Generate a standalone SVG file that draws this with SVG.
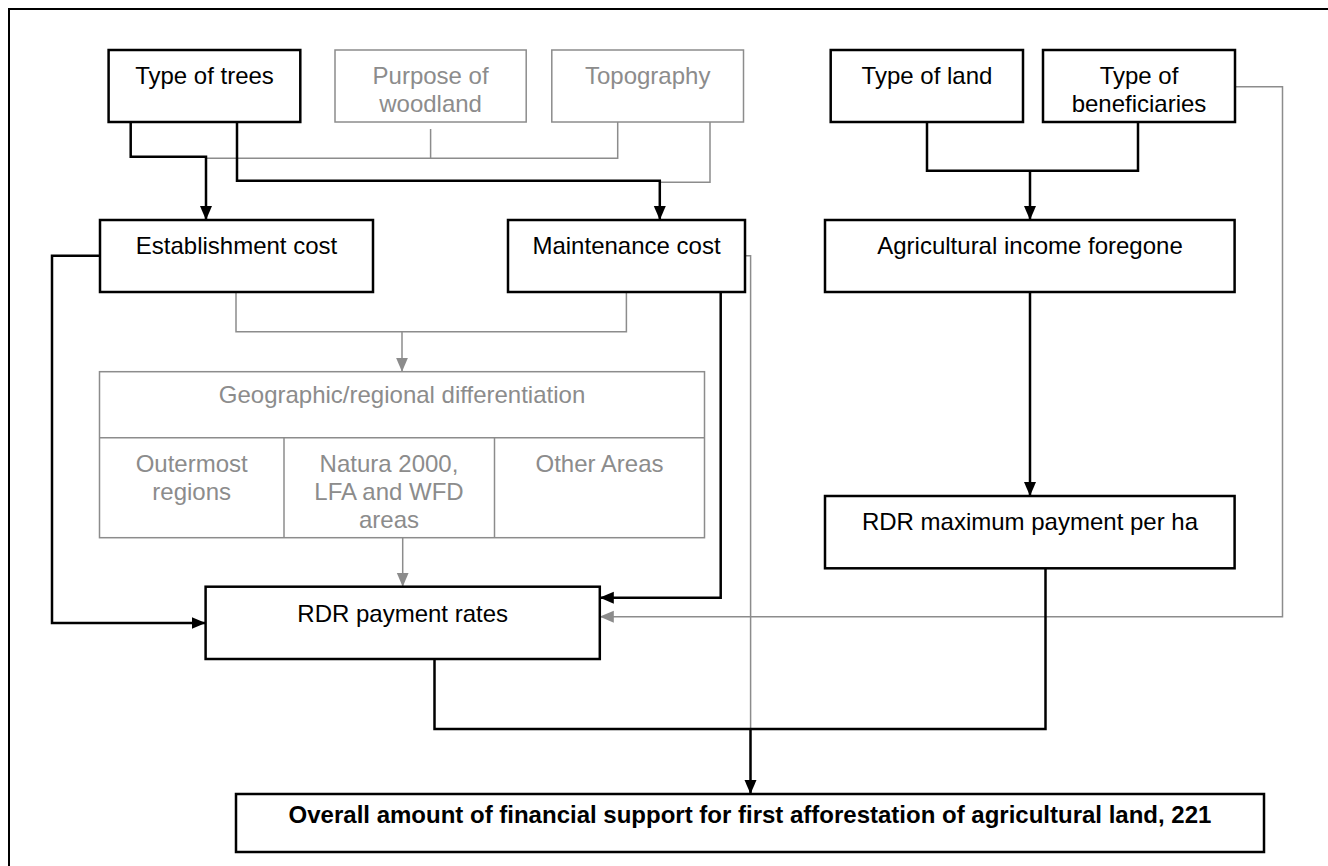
<svg xmlns="http://www.w3.org/2000/svg" width="1328" height="866" viewBox="0 0 1328 866">
<style>
  .bk{fill:#fff;stroke:#000;stroke-width:2.5}
  .gr{fill:#fff;stroke:#8c8c8c;stroke-width:1.5}
  .t{font-family:"Liberation Sans",Arial,sans-serif;font-size:24px;text-anchor:middle;fill:#000}
  .tg{font-family:"Liberation Sans",Arial,sans-serif;font-size:24px;text-anchor:middle;fill:#8c8c8c}
  .tb{font-family:"Liberation Sans",Arial,sans-serif;font-size:24px;font-weight:bold;text-anchor:middle;fill:#000}
  .cb{fill:none;stroke:#000;stroke-width:2.5}
  .cg{fill:none;stroke:#8c8c8c;stroke-width:1.5}
</style>
<defs>
  <marker id="ab" markerUnits="userSpaceOnUse" markerWidth="14" markerHeight="14" refX="14" refY="6" orient="auto">
    <path d="M0,0 L14,6 L0,12 z" fill="#000"/>
  </marker>
  <marker id="ag" markerUnits="userSpaceOnUse" markerWidth="14" markerHeight="14" refX="14" refY="6" orient="auto">
    <path d="M0,0 L14,6 L0,12 z" fill="#8c8c8c"/>
  </marker>
</defs>
<rect x="0" y="0" width="1328" height="866" fill="#fff"/>
<path d="M9,866 L9,9 L1328,9" fill="none" stroke="#000" stroke-width="2"/>

<g id="connectors">
  <!-- grey -->
  <path class="cg" d="M430.6,129 L430.6,158.3"/>
  <path class="cg" d="M206,158.3 L617.7,158.3 L617.7,122"/>
  <path class="cg" d="M710,122 L710,182.3 L659.8,182.3"/>
  <path class="cg" d="M236,292 L236,331.7 L626.4,331.7 L626.4,292"/>
  <path class="cg" d="M402,331.7 L402,371.7" marker-end="url(#ag)"/>
  <path class="cg" d="M402.7,537.7 L402.7,586.7" marker-end="url(#ag)"/>
  <path class="cg" d="M745,255.7 L750.6,255.7 L750.6,729"/>
  <path class="cg" d="M1235,86.7 L1282.5,86.7 L1282.5,616.7 L599.8,616.7" marker-end="url(#ag)"/>
  <!-- black -->
  <path class="cb" d="M130.7,122 L130.7,156.7 L206,156.7 L206,220" marker-end="url(#ab)"/>
  <path class="cb" d="M237,122 L237,180.7 L659.8,180.7 L659.8,220" marker-end="url(#ab)"/>
  <path class="cb" d="M927,122 L927,170.7 L1138,170.7 L1138,122"/>
  <path class="cb" d="M1030,170.7 L1030,220" marker-end="url(#ab)"/>
  <path class="cb" d="M1030,292 L1030,496" marker-end="url(#ab)"/>
  <path class="cb" d="M100,255.7 L52,255.7 L52,623 L205.6,623" marker-end="url(#ab)"/>
  <path class="cb" d="M720.7,292 L720.7,597.7 L599.8,597.7" marker-end="url(#ab)"/>
  <path class="cb" d="M434.5,659 L434.5,729 L1045.5,729 L1045.5,568.3"/>
  <path class="cb" d="M750.5,729 L750.5,794" marker-end="url(#ab)"/>
</g>

<g id="type-of-trees">
  <rect class="bk" x="108.6" y="50" width="191.7" height="72"/>
  <text class="t" x="204.5" y="84">Type of trees</text>
</g>
<g id="purpose-of-woodland">
  <rect class="gr" x="335" y="50" width="191.2" height="72"/>
  <text class="tg" x="430.6" y="84">Purpose of</text>
  <text class="tg" x="430.6" y="112">woodland</text>
</g>
<g id="topography">
  <rect class="gr" x="551.8" y="50" width="191.7" height="72"/>
  <text class="tg" x="647.7" y="84">Topography</text>
</g>
<g id="type-of-land">
  <rect class="bk" x="830.7" y="50" width="192.3" height="72"/>
  <text class="t" x="927" y="84">Type of land</text>
</g>
<g id="type-of-beneficiaries">
  <rect class="bk" x="1043" y="50" width="192" height="72"/>
  <text class="t" x="1139" y="84">Type of</text>
  <text class="t" x="1139" y="112">beneficiaries</text>
</g>
<g id="establishment-cost">
  <rect class="bk" x="100" y="220" width="273" height="72"/>
  <text class="t" x="236.5" y="253.5">Establishment cost</text>
</g>
<g id="maintenance-cost">
  <rect class="bk" x="508" y="220" width="237" height="72"/>
  <text class="t" x="626.5" y="253.5">Maintenance cost</text>
</g>
<g id="agricultural-income-foregone">
  <rect class="bk" x="825" y="220" width="409.6" height="72"/>
  <text class="t" x="1030" y="253.5">Agricultural income foregone</text>
</g>
<g id="geographic-differentiation">
  <rect class="gr" x="99.5" y="371.7" width="605" height="166"/>
  <line x1="99.5" y1="437.7" x2="704.5" y2="437.7" stroke="#8c8c8c" stroke-width="1.5"/>
  <line x1="284" y1="437.7" x2="284" y2="537.7" stroke="#8c8c8c" stroke-width="1.5"/>
  <line x1="494.5" y1="437.7" x2="494.5" y2="537.7" stroke="#8c8c8c" stroke-width="1.5"/>
  <text class="tg" x="402" y="403">Geographic/regional differentiation</text>
  <text class="tg" x="191.7" y="472">Outermost</text>
  <text class="tg" x="191.7" y="500">regions</text>
  <text class="tg" x="389" y="472">Natura 2000,</text>
  <text class="tg" x="389" y="500">LFA and WFD</text>
  <text class="tg" x="389" y="528">areas</text>
  <text class="tg" x="599.5" y="472">Other Areas</text>
</g>
<g id="rdr-maximum-payment">
  <rect class="bk" x="825" y="496" width="409.6" height="72.3"/>
  <text class="t" x="1030" y="530">RDR maximum payment per ha</text>
</g>
<g id="rdr-payment-rates">
  <rect class="bk" x="205.6" y="586.7" width="394.2" height="72.3"/>
  <text class="t" x="402.7" y="621.7">RDR payment rates</text>
</g>
<g id="overall-amount">
  <rect class="bk" x="236" y="794" width="1028" height="58"/>
  <text class="tb" x="750" y="823">Overall amount of financial support for first afforestation of agricultural land, 221</text>
</g>
</svg>
